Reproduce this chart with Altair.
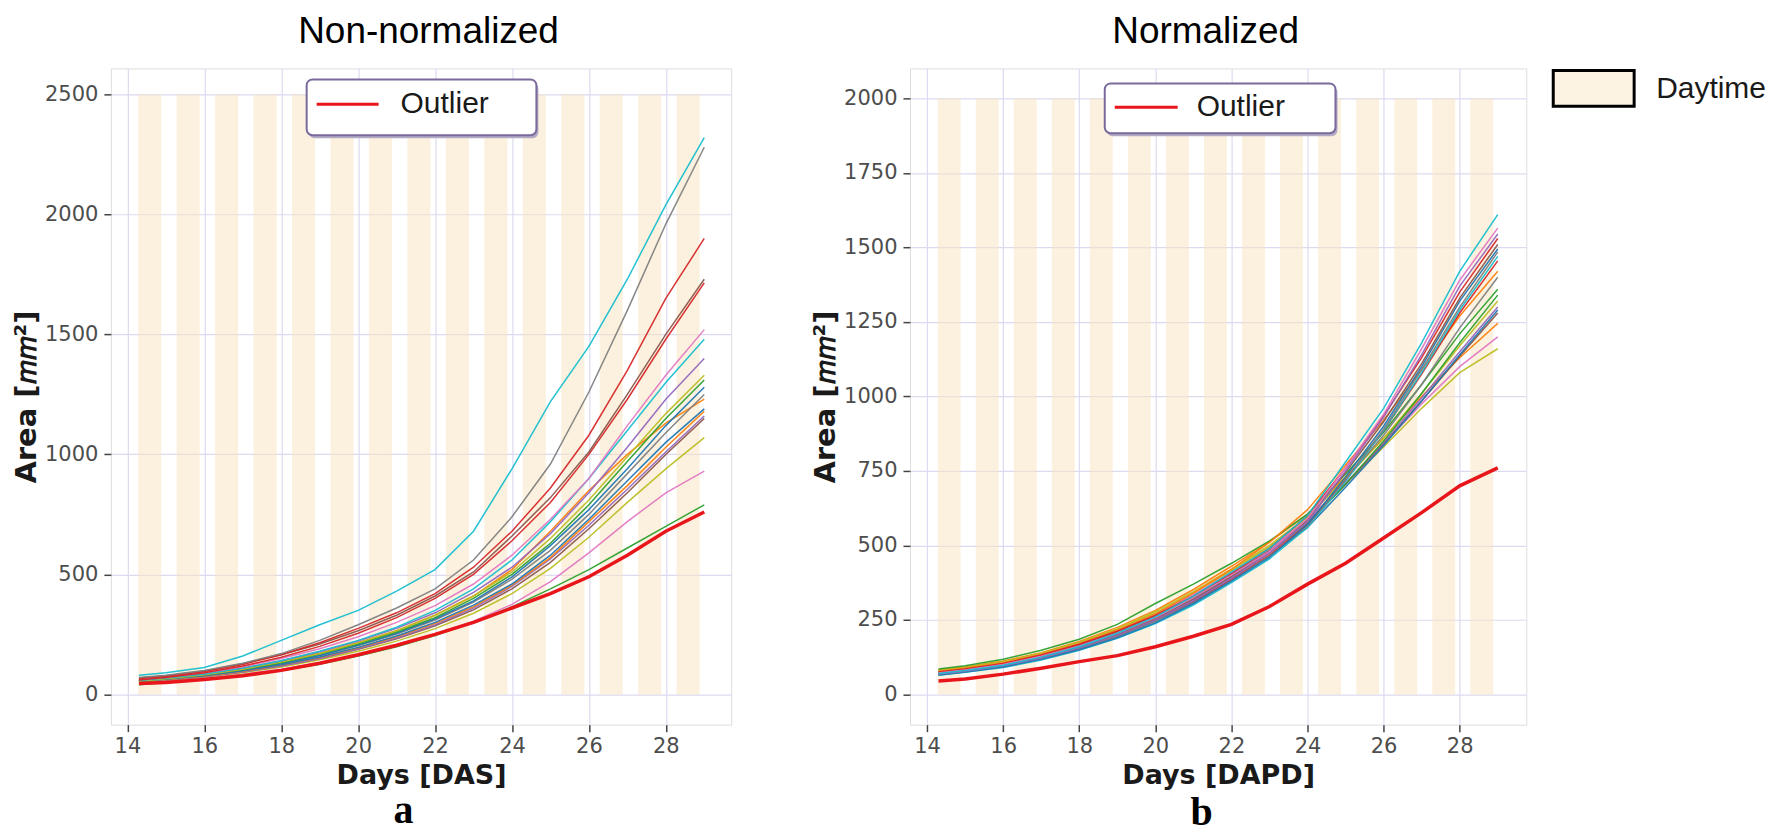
import altair as alt
import pandas as pd

# ---------------- data ----------------
days = [14.3, 15, 16, 17, 18, 19, 20, 21, 22, 23, 24, 25, 26, 27, 28, 29]
x_ticks = [14, 16, 18, 20, 22, 24, 26, 28]
y_ticks_left = [0, 500, 1000, 1500, 2000, 2500]
y_ticks_right = [0, 250, 500, 750, 1000, 1250, 1500, 1750, 2000]

band_start = [14.28, 15.28, 16.28, 17.28, 18.28, 19.28, 20.28, 21.28, 22.28, 23.28, 24.28, 25.28, 26.28, 27.28, 28.28]
band_end = [14.88, 15.88, 16.88, 17.88, 18.88, 19.88, 20.88, 21.88, 22.88, 23.88, 24.88, 25.88, 26.88, 27.88, 28.88]

curve_colors = {
    "blue1": "#1f77b4", "orange1": "#ff7f0e", "green1": "#2ca02c", "red1": "#d62728",
    "purple1": "#9467bd", "brown1": "#8c564b", "pink1": "#e377c2", "gray1": "#7f7f7f",
    "olive1": "#bcbd22", "cyan1": "#17becf",
    "blue2": "#1f77b4", "orange2": "#ff7f0e", "green2": "#2ca02c", "red2": "#d62728",
    "purple2": "#9467bd", "brown2": "#8c564b", "pink2": "#e377c2", "gray2": "#7f7f7f",
    "olive2": "#bcbd22", "cyan2": "#17becf",
}

# Non-normalized panel (a)
left_curves = {
    "green2":  [40, 50, 64, 80, 100, 126, 160, 198, 245, 300, 365, 440, 520, 610, 700, 790],
    "pink2":   [48, 56, 68, 84, 105, 132, 165, 204, 250, 305, 375, 470, 590, 720, 840, 930],
    "olive2":  [50, 58, 72, 90, 114, 144, 180, 222, 274, 338, 420, 525, 655, 800, 940, 1070],
    "brown2":  [53, 61, 75, 94, 119, 150, 188, 232, 286, 352, 440, 550, 690, 840, 1000, 1150],
    "purple1": [52, 60, 74, 93, 118, 150, 190, 235, 290, 360, 450, 565, 705, 855, 1010, 1160],
    "orange2": [54, 62, 76, 96, 122, 154, 194, 240, 296, 366, 455, 570, 720, 870, 1030, 1180],
    "blue1":   [55, 64, 78, 98, 124, 156, 196, 243, 300, 372, 460, 580, 730, 890, 1050, 1190],
    "orange1": [60, 70, 86, 108, 137, 172, 215, 265, 330, 410, 520, 680, 850, 1000, 1130, 1230],
    "gray2":   [56, 65, 80, 101, 128, 162, 204, 252, 310, 385, 480, 600, 750, 920, 1090, 1250],
    "blue2":   [55, 64, 80, 100, 128, 162, 205, 255, 315, 390, 490, 620, 770, 940, 1120, 1280],
    "green1":  [57, 66, 82, 104, 132, 168, 210, 260, 320, 400, 500, 630, 790, 970, 1150, 1310],
    "olive1":  [55, 65, 82, 105, 135, 170, 215, 265, 330, 410, 510, 650, 810, 990, 1170, 1330],
    "purple2": [60, 70, 86, 110, 140, 178, 222, 275, 340, 425, 530, 670, 840, 1030, 1230, 1400],
    "cyan2":   [58, 68, 85, 110, 140, 180, 225, 280, 350, 440, 560, 720, 900, 1100, 1300, 1480],
    "pink1":   [62, 72, 90, 115, 150, 190, 240, 300, 370, 460, 580, 730, 900, 1120, 1330, 1520],
    "red2":    [60, 70, 90, 118, 155, 200, 255, 320, 400, 500, 640, 800, 1000, 1230, 1480, 1715],
    "brown1":  [68, 78, 98, 128, 165, 210, 265, 330, 410, 510, 660, 820, 1010, 1250, 1500, 1730],
    "red1":    [65, 75, 95, 125, 165, 215, 275, 340, 420, 530, 680, 860, 1080, 1350, 1650, 1900],
    "gray1":   [70, 80, 100, 130, 170, 225, 290, 360, 440, 560, 740, 960, 1260, 1600, 1960, 2280],
    "cyan1":   [80, 90, 112, 160, 225, 290, 350, 430, 520, 680, 940, 1220, 1450, 1730, 2040, 2320],
}
left_outlier = [45, 50, 62, 78, 100, 130, 165, 205, 250, 300, 360, 420, 490, 580, 680, 760]

# Normalized panel (b)
right_curves = {
    "olive2":  [80, 90, 110, 137, 174, 218, 273, 340, 415, 495, 588, 705, 830, 960, 1080, 1160],
    "pink2":   [78, 88, 107, 134, 170, 214, 268, 335, 410, 490, 585, 710, 840, 975, 1100, 1200],
    "orange2": [82, 92, 112, 140, 178, 225, 282, 352, 430, 512, 605, 730, 860, 1000, 1130, 1245],
    "brown2":  [76, 86, 104, 131, 166, 210, 263, 328, 402, 483, 578, 705, 840, 985, 1135, 1280],
    "blue2":   [68, 78, 95, 120, 153, 195, 246, 310, 385, 465, 560, 695, 835, 985, 1140, 1290],
    "purple2": [74, 84, 102, 128, 163, 206, 260, 325, 400, 480, 575, 705, 845, 995, 1150, 1300],
    "olive1":  [80, 90, 110, 138, 175, 220, 278, 345, 420, 500, 595, 725, 860, 1010, 1170, 1320],
    "green2":  [74, 84, 102, 128, 160, 202, 255, 322, 398, 478, 572, 705, 850, 1010, 1180, 1340],
    "green1":  [85, 96, 118, 148, 185, 235, 305, 370, 440, 515, 605, 740, 880, 1040, 1210, 1360],
    "gray2":   [72, 82, 100, 126, 160, 202, 254, 318, 392, 475, 575, 720, 870, 1040, 1230, 1400],
    "orange1": [78, 88, 106, 134, 170, 215, 270, 340, 420, 510, 620, 770, 920, 1090, 1270, 1420],
    "red2":    [70, 80, 97, 123, 157, 198, 250, 312, 385, 468, 570, 720, 885, 1075, 1280, 1455],
    "cyan2":   [64, 74, 90, 115, 148, 188, 238, 300, 375, 455, 560, 715, 885, 1080, 1290, 1470],
    "gray1":   [66, 76, 94, 120, 153, 194, 245, 308, 382, 465, 565, 720, 890, 1090, 1300, 1485],
    "blue1":   [65, 75, 92, 118, 150, 190, 240, 305, 380, 460, 570, 730, 900, 1100, 1320, 1495],
    "brown1":  [70, 80, 98, 125, 160, 202, 255, 320, 395, 480, 585, 745, 915, 1110, 1330, 1510],
    "red1":    [75, 85, 104, 132, 168, 212, 265, 330, 405, 490, 600, 760, 935, 1130, 1350, 1530],
    "purple1": [68, 78, 96, 122, 156, 198, 250, 315, 390, 475, 580, 750, 930, 1140, 1370, 1545],
    "pink1":   [72, 82, 100, 128, 162, 205, 258, 325, 400, 480, 590, 760, 940, 1160, 1390, 1565],
    "cyan1":   [70, 80, 98, 125, 160, 205, 260, 330, 410, 490, 600, 780, 960, 1180, 1420, 1610],
}
right_outlier = [45, 52, 68, 88, 110, 130, 160, 195, 235, 295, 370, 440, 525, 610, 700, 760]

# ---------------- styling ----------------
OUT_RED = "#e8161b"
BAND = "#f9e3bd"
GRID = "#dcdaf0"
LABEL_FONT = "DejaVu Sans"
one = pd.DataFrame({"k": [0]})


def axis_x():
    return alt.Axis(values=x_ticks, grid=True, gridColor=GRID, gridWidth=1.2, domain=False,
                    tickColor="#444444", tickSize=7, tickWidth=1.5,
                    labelFont=LABEL_FONT, labelFontSize=21, labelColor="#4d4d4d", labelPadding=4,
                    titleFont=LABEL_FONT, titleFontSize=27, titleFontWeight="bold",
                    titleColor="#1a1a1a", titlePadding=6, format="d")


def axis_y(vals):
    return alt.Axis(values=vals, grid=True, gridColor=GRID, gridWidth=1.2, domain=False,
                    tickColor="#444444", tickSize=7, tickWidth=1.5,
                    labelFont=LABEL_FONT, labelFontSize=21, labelColor="#4d4d4d", labelPadding=6,
                    titleFont=LABEL_FONT, titleFontSize=29, titleFontWeight="bold",
                    titleColor="#1a1a1a", titlePadding=3, format="d")


def panel(curves, outlier, xdom, ydom, band_top, yvals, xtitle, W, H,
          title, title_x, letter, letter_x, letter_y, box, daytime=False):
    ytitle = "Area [𝑚𝑚²]"
    xs = alt.Scale(domain=xdom, nice=False, zero=False)
    ys = alt.Scale(domain=ydom, nice=False, zero=False)

    bands_df = pd.DataFrame({"day": band_start, "day_end": band_end,
                             "area": [0] * len(band_start), "area_end": [band_top] * len(band_start)})
    bands = alt.Chart(bands_df).mark_rect(color=BAND, opacity=0.5).encode(
        x=alt.X("day:Q", scale=xs, axis=axis_x(), title=xtitle),
        x2="day_end:Q",
        y=alt.Y("area:Q", scale=ys, axis=axis_y(yvals), title=ytitle),
        y2="area_end:Q",
    )

    rows = []
    for name, vals in curves.items():
        for d, v in zip(days, vals):
            rows.append({"day": d, "area": v, "curve": name})
    df = pd.DataFrame(rows)
    names = list(curves.keys())
    lines = alt.Chart(df).mark_line(strokeWidth=1.5, opacity=0.95).encode(
        x=alt.X("day:Q", scale=xs, title=xtitle),
        y=alt.Y("area:Q", scale=ys, title=ytitle),
        color=alt.Color("curve:N", scale=alt.Scale(domain=names, range=[curve_colors[n] for n in names]),
                        legend=None),
    )

    odf = pd.DataFrame({"day": days, "area": outlier})
    out_line = alt.Chart(odf).mark_line(color=OUT_RED, strokeWidth=3.5).encode(
        x=alt.X("day:Q", scale=xs, title=xtitle),
        y=alt.Y("area:Q", scale=ys, title=ytitle),
    )

    bx0, bx1, by0, by1, lx0, lx1, ly, tx = box
    shadow = alt.Chart(one).mark_rect(color="#b3abc6", cornerRadius=6).encode(
        x=alt.value(bx0 + 2), x2=alt.value(bx1 + 2), y=alt.value(by0 + 3), y2=alt.value(by1 + 3))
    legbox = alt.Chart(one).mark_rect(fill="white", stroke="#7a6a9c", strokeWidth=2, cornerRadius=6).encode(
        x=alt.value(bx0), x2=alt.value(bx1), y=alt.value(by0), y2=alt.value(by1))
    legline = alt.Chart(one).mark_rule(color=OUT_RED, strokeWidth=3).encode(
        x=alt.value(lx0), x2=alt.value(lx1), y=alt.value(ly))
    legtext = alt.Chart(one).mark_text(text="Outlier", font="Liberation Sans", fontSize=30,
                                       align="left", baseline="middle", color="#1a1a1a").encode(
        x=alt.value(tx), y=alt.value(ly))

    ttl = alt.Chart(one).mark_text(text=title, font="Liberation Sans", fontSize=37,
                                   align="center", baseline="alphabetic", color="black").encode(
        x=alt.value(title_x), y=alt.value(-25))
    let = alt.Chart(one).mark_text(text=letter, font="Liberation Serif", fontSize=40, fontWeight="bold",
                                   align="center", baseline="alphabetic", color="black").encode(
        x=alt.value(letter_x), y=alt.value(letter_y))

    layers = [bands, lines, out_line, shadow, legbox, legline, legtext, ttl, let]
    if daytime:
        dbox = alt.Chart(one).mark_rect(fill="#fdf3e3", stroke="black", strokeWidth=3).encode(
            x=alt.value(W + 27), x2=alt.value(W + 108), y=alt.value(2), y2=alt.value(38))
        dtext = alt.Chart(one).mark_text(text="Daytime", font="Liberation Sans", fontSize=30,
                                         align="left", baseline="middle", color="#1a1a1a").encode(
            x=alt.value(W + 130), y=alt.value(21))
        layers += [dbox, dtext]
    return alt.layer(*layers).properties(width=W, height=H)


left = panel(left_curves, left_outlier, [13.57, 29.70], [-126.1, 2608.6], 2500, y_ticks_left,
             "Days [DAS]", 621, 657, "Non-normalized", 318, "a", 293, 755,
             (196, 426, 11, 67, 206, 268, 36, 290))
right = panel(right_curves, right_outlier, [13.55, 29.75], [-101.6, 2100.9], 2000, y_ticks_right,
              "Days [DAPD]", 617, 657, "Normalized", 296, "b", 292, 757,
              (195, 426, 15, 65, 205, 268, 39, 287), daytime=True)

chart = alt.hconcat(left, right, spacing=79).resolve_scale(
    x="independent", y="independent", color="independent"
).properties(
    padding={"left": 4, "top": 4, "right": 0, "bottom": 0}
).configure_view(
    stroke="#8c8c8c", strokeWidth=2
).configure(background="white")

chart.save("out.html", embed_options={"renderer": "svg", "actions": False})
